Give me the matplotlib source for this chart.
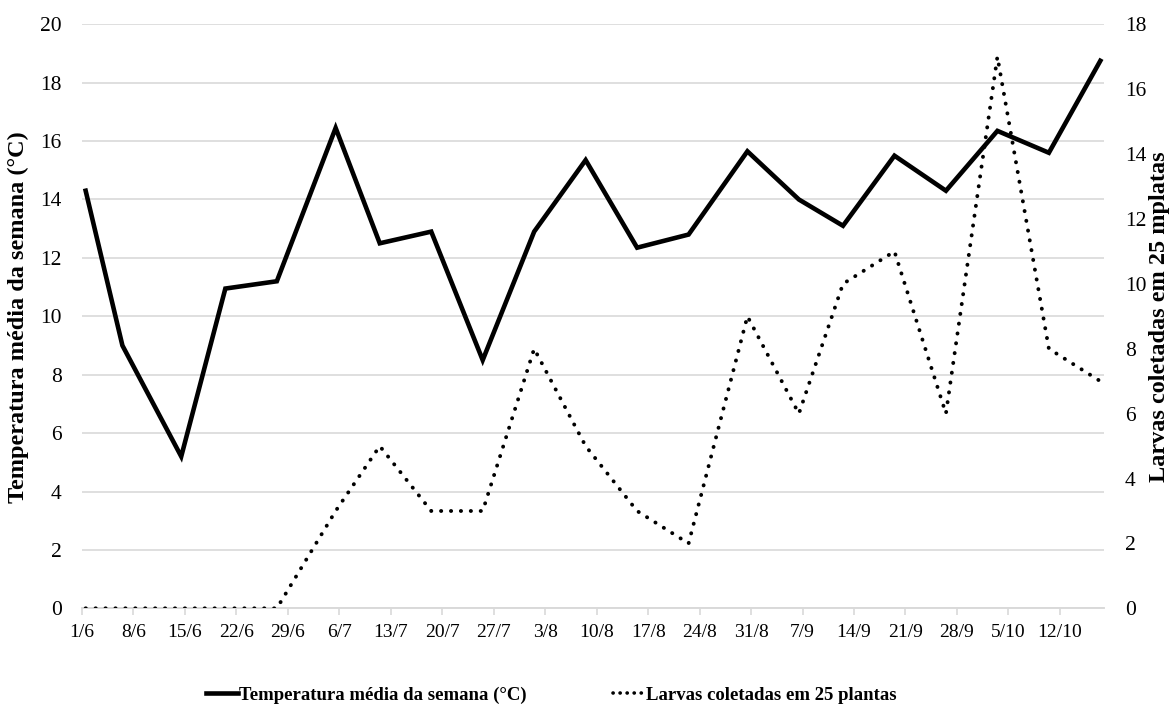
import matplotlib
matplotlib.use("Agg")
import matplotlib.pyplot as plt
from matplotlib.lines import Line2D

plt.rcParams['font.family'] = ['Liberation Serif', 'DejaVu Serif']

# eixo x: rótulos semanais (dias contados a partir de 1/6)
tick_labels = ["1/6", "8/6", "15/6", "22/6", "29/6", "6/7", "13/7", "20/7", "27/7", "3/8",
               "10/8", "17/8", "24/8", "31/8", "7/9", "14/9", "21/9", "28/9", "5/10", "12/10"]
tick_days = [0, 7, 14, 21, 28, 35, 42, 49, 56, 63, 70, 77, 84, 91, 98, 105, 112, 119, 126, 133]

# datas das coletas (dias desde 1/6)
sample_days = [0, 5, 13, 19, 26, 34, 40, 47, 54, 61, 68, 75, 82, 90, 97, 103, 110, 117, 124, 131, 138]

temperatura = [14.3, 9.0, 5.2, 10.95, 11.2, 16.45, 12.5, 12.9, 8.5, 12.9, 15.35,
               12.35, 12.8, 15.65, 14.0, 13.1, 15.5, 14.3, 16.35, 15.6, 18.75]
larvas = [0, 0, 0, 0, 0, 3, 5, 3, 3, 8, 5, 3, 2, 9, 6, 10, 11, 6, 17, 8, 7]

x = [d + 0.5 for d in sample_days]

fig = plt.figure(figsize=(11.71, 7.10), dpi=100)
ax = fig.add_axes([0.070, 0.1432, 0.8728, 0.8226])
ax2 = ax.twinx()

grid_c = "#d9d9d9"

l1, = ax.plot(x, temperatura, color="black", lw=3.3, solid_joinstyle="miter", zorder=3)
l2, = ax2.plot(x, larvas, color="black", lw=2.8, linestyle=(0, (0.05, 2.5)),
               dash_capstyle="round", zorder=3)

ax.set_xlim(0, 139)
ax.set_ylim(0, 20)
ax2.set_ylim(0, 18)
ax.set_yticks(range(0, 21, 2))
ax2.set_yticks(range(0, 19, 2))
ax.set_xticks(tick_days)
ax.set_xticklabels(tick_labels)

ax.yaxis.grid(True, color=grid_c, lw=1.2)
ax.set_axisbelow(True)

for a in (ax, ax2):
    for s in ("top", "left", "right"):
        a.spines[s].set_visible(False)
    a.spines["bottom"].set_color(grid_c)
    a.spines["bottom"].set_linewidth(1.2)

ax.tick_params(axis="x", length=5, width=1.2, color=grid_c, pad=6, labelsize=14)
ax.tick_params(axis="y", length=0, pad=14.5, labelsize=15.5)
ax2.tick_params(axis="y", length=0, pad=15, labelsize=15.5)

fig.text(18 / 1171, 0.554, "Temperatura média da semana (°C)", rotation=90,
         ha="center", va="center", fontsize=17.5, fontweight="bold")
fig.text(1160 / 1171, 0.554, "Larvas coletadas em 25 mplatas", rotation=90,
         ha="center", va="center", fontsize=17.5, fontweight="bold")

# amostras da legenda (pontilhado mais denso, como no original)
h1 = Line2D([], [], color="black", lw=3.3)
h2 = Line2D([], [], color="black", lw=2.6, linestyle=(0, (0.05, 1.9)), dash_capstyle="round")
fig.legend(handles=[h1, h2],
           labels=["Temperatura média da semana (°C)", "Larvas coletadas em 25 plantas"],
           loc="center", bbox_to_anchor=(0.471, 0.021), ncol=2,
           frameon=False, handlelength=1.7, handletextpad=0.05,
           columnspacing=4.6, prop={"weight": "bold", "size": 13.5})

fig.savefig("out.png", dpi=100)
